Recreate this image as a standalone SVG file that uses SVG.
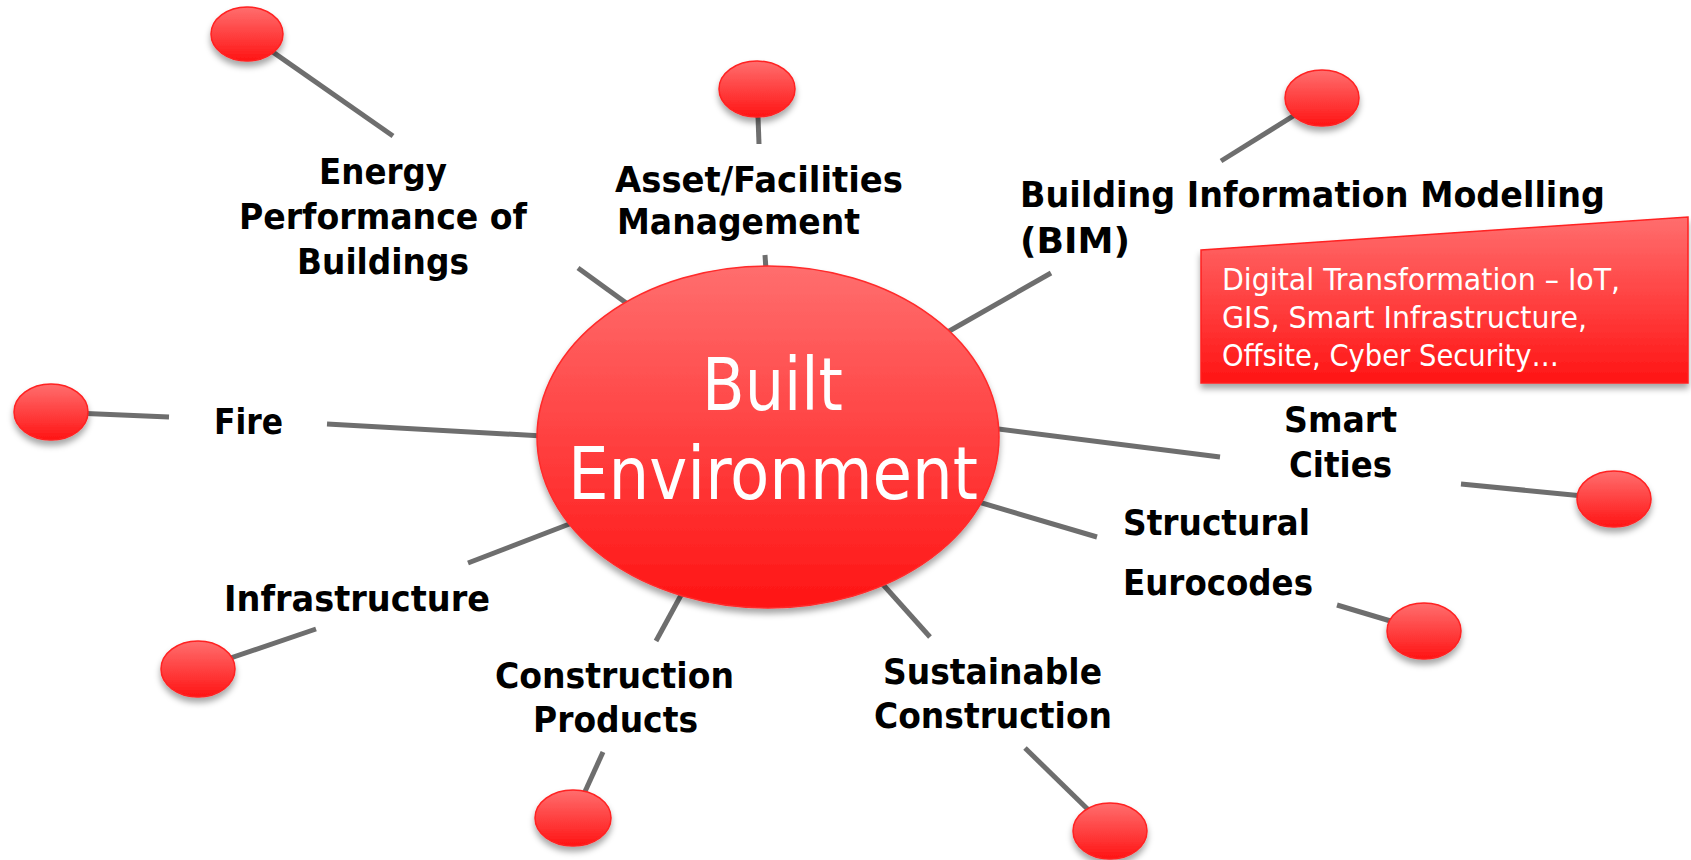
<svg xmlns="http://www.w3.org/2000/svg" width="1691" height="860" viewBox="0 0 1691 860">
<defs>
<linearGradient id="redGrad" x1="0" y1="0" x2="0" y2="1">
<stop offset="0" stop-color="#ff6e6e"/>
<stop offset="1" stop-color="#ff1414"/>
</linearGradient>
<filter id="shadow" x="-20%" y="-20%" width="140%" height="150%">
<feDropShadow dx="0" dy="5" stdDeviation="3" flood-color="#000" flood-opacity="0.35"/>
</filter>
<style>
.conn{stroke:#6e6e6e;stroke-width:5;fill:none}
.pin{fill:url(#redGrad);stroke:#ff2020;stroke-width:1.5;filter:url(#shadow)}
.lbl{font-family:"DejaVu Sans",sans-serif;font-weight:bold;font-size:36px;fill:#000}
.big{font-family:"DejaVu Sans Condensed","DejaVu Sans",sans-serif;font-size:73px;fill:#fff}
.box{font-family:"DejaVu Sans Condensed","DejaVu Sans",sans-serif;font-size:30px;fill:#fff}
</style>
</defs>
<rect width="1691" height="860" fill="#fff"/>
<g id="connectors">
<line class="conn" x1="247" y1="34" x2="393" y2="136"/>
<line class="conn" x1="578" y1="268" x2="640" y2="313"/>
<line class="conn" x1="757" y1="89" x2="759" y2="144"/>
<line class="conn" x1="765" y1="255" x2="767" y2="285"/>
<line class="conn" x1="1322" y1="98" x2="1221" y2="161"/>
<line class="conn" x1="1051" y1="273" x2="930" y2="342"/>
<line class="conn" x1="51" y1="412" x2="169" y2="417"/>
<line class="conn" x1="327" y1="424" x2="560" y2="437"/>
<line class="conn" x1="198" y1="669" x2="316" y2="629"/>
<line class="conn" x1="468" y1="563" x2="585" y2="518"/>
<line class="conn" x1="656" y1="641" x2="692" y2="575"/>
<line class="conn" x1="603" y1="752" x2="573" y2="818"/>
<line class="conn" x1="870" y1="570" x2="930" y2="637"/>
<line class="conn" x1="1025" y1="748" x2="1110" y2="831"/>
<line class="conn" x1="975" y1="426" x2="1220" y2="457"/>
<line class="conn" x1="1461" y1="484" x2="1614" y2="499"/>
<line class="conn" x1="965" y1="498" x2="1097" y2="537"/>
<line class="conn" x1="1337" y1="605" x2="1424" y2="631"/>
</g>
<g id="built-environment">
<ellipse cx="768" cy="437" rx="231" ry="171" fill="url(#redGrad)" stroke="#ff2a2a" stroke-width="1.5" filter="url(#shadow)"/>
<text class="big" x="702" y="410" textLength="141" lengthAdjust="spacingAndGlyphs">Built</text>
<text class="big" x="568" y="499" textLength="410" lengthAdjust="spacingAndGlyphs">Environment</text>
</g>
<g id="energy">
<ellipse class="pin" cx="247" cy="34" rx="36" ry="27"/>
<text class="lbl" x="319" y="184" textLength="128" lengthAdjust="spacingAndGlyphs">Energy</text>
<text class="lbl" x="239" y="229" textLength="288" lengthAdjust="spacingAndGlyphs">Performance of</text>
<text class="lbl" x="297" y="274" textLength="172" lengthAdjust="spacingAndGlyphs">Buildings</text>
</g>
<g id="asset">
<ellipse class="pin" cx="757" cy="89" rx="38" ry="28"/>
<text class="lbl" x="615" y="192" textLength="288" lengthAdjust="spacingAndGlyphs">Asset/Facilities</text>
<text class="lbl" x="617" y="234" textLength="243" lengthAdjust="spacingAndGlyphs">Management</text>
</g>
<g id="bim">
<ellipse class="pin" cx="1322" cy="98" rx="37" ry="28"/>
<text class="lbl" x="1020" y="207" textLength="585" lengthAdjust="spacingAndGlyphs">Building Information Modelling</text>
<text class="lbl" x="1020" y="253" textLength="110" lengthAdjust="spacingAndGlyphs">(BIM)</text>
</g>
<g id="digital">
<polygon points="1201,250 1688,217 1688,383 1201,383" fill="url(#redGrad)" stroke="#ff2020" stroke-width="1.5" filter="url(#shadow)"/>
<text class="box" x="1222" y="290" textLength="398" lengthAdjust="spacingAndGlyphs">Digital Transformation – IoT,</text>
<text class="box" x="1222" y="328" textLength="365" lengthAdjust="spacingAndGlyphs">GIS, Smart Infrastructure,</text>
<text class="box" x="1222" y="366" textLength="337" lengthAdjust="spacingAndGlyphs">Offsite, Cyber Security…</text>
</g>
<g id="fire">
<ellipse class="pin" cx="51" cy="412" rx="37" ry="28"/>
<text class="lbl" x="214" y="434" textLength="69" lengthAdjust="spacingAndGlyphs">Fire</text>
</g>
<g id="infrastructure">
<ellipse class="pin" cx="198" cy="669" rx="37" ry="28"/>
<text class="lbl" x="224" y="611" textLength="266" lengthAdjust="spacingAndGlyphs">Infrastructure</text>
</g>
<g id="construction-products">
<ellipse class="pin" cx="573" cy="818" rx="38" ry="28"/>
<text class="lbl" x="495" y="688" textLength="239" lengthAdjust="spacingAndGlyphs">Construction</text>
<text class="lbl" x="533" y="732" textLength="165" lengthAdjust="spacingAndGlyphs">Products</text>
</g>
<g id="sustainable-construction">
<ellipse class="pin" cx="1110" cy="831" rx="37" ry="28"/>
<text class="lbl" x="883" y="684" textLength="219" lengthAdjust="spacingAndGlyphs">Sustainable</text>
<text class="lbl" x="874" y="728" textLength="238" lengthAdjust="spacingAndGlyphs">Construction</text>
</g>
<g id="smart-cities">
<ellipse class="pin" cx="1614" cy="499" rx="37" ry="28"/>
<text class="lbl" x="1284" y="432" textLength="113" lengthAdjust="spacingAndGlyphs">Smart</text>
<text class="lbl" x="1289" y="477" textLength="103" lengthAdjust="spacingAndGlyphs">Cities</text>
</g>
<g id="structural-eurocodes">
<ellipse class="pin" cx="1424" cy="631" rx="37" ry="28"/>
<text class="lbl" x="1123" y="535" textLength="187" lengthAdjust="spacingAndGlyphs">Structural</text>
<text class="lbl" x="1123" y="595" textLength="190" lengthAdjust="spacingAndGlyphs">Eurocodes</text>
</g>
</svg>
